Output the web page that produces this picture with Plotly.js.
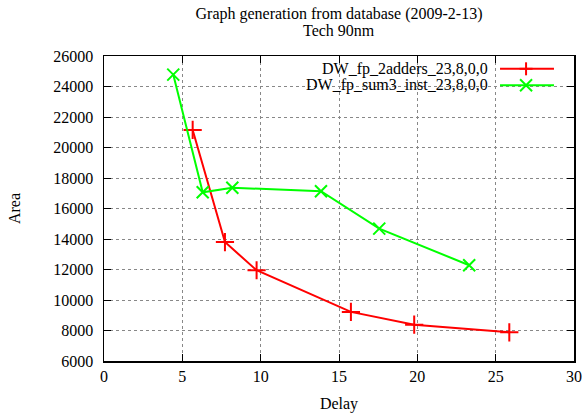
<!DOCTYPE html>
<html>
<head>
<meta charset="utf-8">
<script src="https://cdn.plot.ly/plotly-3.0.1.min.js"></script>
<style>html,body{margin:0;padding:0;background:#fff}#chart{width:585px;height:413px}</style>
</head>
<body>
<div id="chart"></div>
<script>
// Data
const seriesNames = ["DW_fp_2adders_23,8,0,0", "DW_fp_sum3_inst_23,8,0,0"];
const adders_delay = [5.66, 7.72, 9.74, 15.76, 19.8, 25.87];
const adders_area  = [21150, 13800, 11950, 9220, 8380, 7880];
const sum3_delay   = [4.42, 6.3, 8.19, 13.85, 17.57, 23.31];
const sum3_area    = [24780, 17060, 17360, 17130, 14680, 12280];
const titleLine1 = "Graph generation from database (2009-2-13)";
const titleLine2 = "Tech 90nm";
const xTitle = "Delay";
const yTitle = "Area";

const FONT = "Liberation Serif";
const RED = "#ff0000", GREEN = "#00ff00";

const traces = [
  {x: adders_delay, y: adders_area, name: seriesNames[0], type: "scatter", mode: "lines+markers",
   line: {color: RED, width: 2}, marker: {symbol: "cross-thin", size: 13, line: {color: RED, width: 2}},
   showlegend: false},
  {x: sum3_delay, y: sum3_area, name: seriesNames[1], type: "scatter", mode: "lines+markers",
   line: {color: GREEN, width: 2}, marker: {symbol: "x-thin", size: 12, line: {color: GREEN, width: 2}},
   showlegend: false}
];

// plot area: x 104..574, y 56..361
const legendRows = [0.958, 0.904];
const legendColors = [RED, GREEN];
const shapes = [
  {type: "rect", xref: "paper", yref: "paper", x0: 0.306, x1: 1, y0: 0.868, y1: 1,
   fillcolor: "#ffffff", line: {width: 0}, layer: "between"}
];
const annotations = [
  {text: titleLine2, xref: "paper", yref: "paper", x: 0.5, y: 1.085, xanchor: "center", yanchor: "middle",
   showarrow: false, font: {family: FONT, size: 16, color: "#000"}}
];
legendRows.forEach((yy, i) => {
  annotations.push({text: seriesNames[i], xref: "paper", yref: "paper", x: 0.822, y: yy,
    xanchor: "right", yanchor: "middle", showarrow: false, font: {family: FONT, size: 16, color: "#000"}});
  shapes.push({type: "line", xref: "paper", yref: "paper", x0: 0.8426, x1: 0.9574, y0: yy, y1: yy,
    line: {color: legendColors[i], width: 2}});
  if (i === 0) {
    shapes.push({type: "line", xref: "paper", yref: "paper", xsizemode: "pixel", ysizemode: "pixel",
      xanchor: 0.898, yanchor: yy, x0: -6.5, x1: 6.5, y0: 0, y1: 0, line: {color: RED, width: 2}});
    shapes.push({type: "line", xref: "paper", yref: "paper", xsizemode: "pixel", ysizemode: "pixel",
      xanchor: 0.898, yanchor: yy, x0: 0, x1: 0, y0: -6.5, y1: 6.5, line: {color: RED, width: 2}});
  } else {
    shapes.push({type: "line", xref: "paper", yref: "paper", xsizemode: "pixel", ysizemode: "pixel",
      xanchor: 0.898, yanchor: yy, x0: -6, x1: 6, y0: -6, y1: 6, line: {color: GREEN, width: 2}});
    shapes.push({type: "line", xref: "paper", yref: "paper", xsizemode: "pixel", ysizemode: "pixel",
      xanchor: 0.898, yanchor: yy, x0: -6, x1: 6, y0: 6, y1: -6, line: {color: GREEN, width: 2}});
  }
});

const axisCommon = {
  showline: true, linecolor: "#000", linewidth: 1.5, mirror: "ticks",
  ticks: "inside", ticklen: 7, tickcolor: "#000", tickwidth: 1,
  showgrid: true, gridcolor: "#888", griddash: "dot", gridwidth: 1,
  zeroline: false, tickfont: {family: FONT, size: 16, color: "#000"}
};

const layout = {
  width: 585, height: 413,
  margin: {l: 104, r: 11, t: 56, b: 52},
  paper_bgcolor: "#fff", plot_bgcolor: "#fff",
  showlegend: false,
  font: {family: FONT, size: 16, color: "#000"},
  title: {text: titleLine1, font: {family: FONT, size: 16, color: "#000"},
          x: 0.5, xref: "paper", y: 1 - 13/413, yref: "container", yanchor: "middle"},
  xaxis: Object.assign({}, axisCommon, {range: [0, 30], dtick: 5, tick0: 0, tickformat: "d",
    title: {text: xTitle, font: {family: FONT, size: 16, color: "#000"}, standoff: 14}}),
  yaxis: Object.assign({}, axisCommon, {range: [6000, 26000], dtick: 2000, tick0: 6000, tickformat: "d",
    ticklabelstandoff: 6,
    title: {text: yTitle, font: {family: FONT, size: 16, color: "#000"}, standoff: 28}}),
  shapes: shapes,
  annotations: annotations
};

Plotly.newPlot("chart", traces, layout, {displayModeBar: false, staticPlot: true});
</script>
</body>
</html>
